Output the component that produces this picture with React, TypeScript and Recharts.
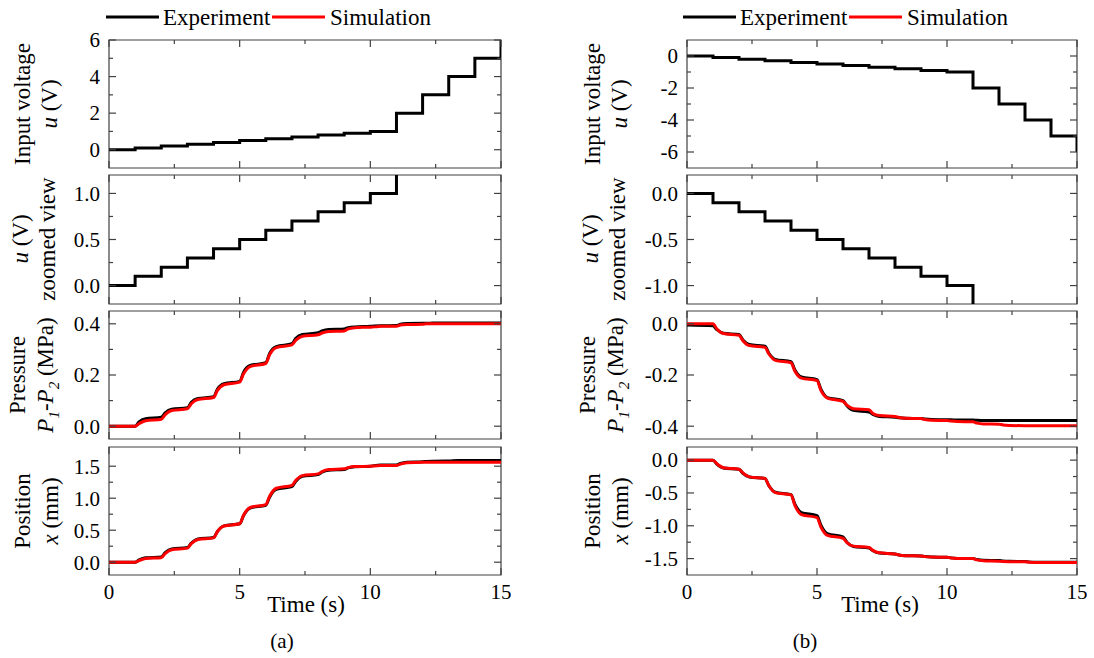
import * as React from "react";
import { LineChart, Line, XAxis, YAxis, ReferenceArea } from "recharts";

// step input, one value per second
const voltTime = [0, 1, 2, 3, 4, 5, 6, 7, 8, 9, 10, 11, 12, 13, 14, 15];
const voltA = [0, 0.1, 0.2, 0.3, 0.4, 0.5, 0.6, 0.7, 0.8, 0.9, 1.0, 2, 3, 4, 5, 6];
const voltB = [0, -0.1, -0.2, -0.3, -0.4, -0.5, -0.6, -0.7, -0.8, -0.9, -1.0, -2, -3, -4, -5, -6];

// response sampling times
const respTime = [
    0, 1,
    1.15, 1.4, 2, 2.15, 2.4, 3, 3.15, 3.4, 4, 4.15, 4.4, 5,
    5.15, 5.4, 6, 6.15, 6.4, 7, 7.15, 7.4, 8, 8.15, 8.4, 9,
    9.15, 9.4, 10, 10.15, 10.4, 11, 11.15, 11.4, 12, 12.15, 12.4, 13,
    13.15, 13.4, 14, 14.15, 14.4, 15
];

const pressExpA = [
    0, 0,
    0.017, 0.029, 0.035, 0.052, 0.066, 0.072, 0.093, 0.108, 0.115, 0.145, 0.166, 0.175,
    0.211, 0.237, 0.248, 0.285, 0.311, 0.322, 0.343, 0.358, 0.365, 0.372, 0.378, 0.38,
    0.385, 0.388, 0.39, 0.391, 0.392, 0.393, 0.398, 0.401, 0.402, 0.402, 0.403, 0.403,
    0.403, 0.403, 0.403, 0.403, 0.403, 0.403
];
const pressSimA = [
    0, 0,
    0.01, 0.021, 0.027, 0.045, 0.061, 0.068, 0.088, 0.104, 0.112, 0.14, 0.162, 0.172,
    0.205, 0.233, 0.245, 0.28, 0.307, 0.318, 0.336, 0.351, 0.357, 0.364, 0.37, 0.372,
    0.38, 0.385, 0.387, 0.388, 0.39, 0.39, 0.395, 0.397, 0.398, 0.4, 0.4, 0.4,
    0.4, 0.4, 0.4, 0.4, 0.4, 0.4
];
const posExpA = [
    0, 0,
    0.035, 0.068, 0.08, 0.148, 0.208, 0.23, 0.3, 0.362, 0.385, 0.482, 0.568, 0.6,
    0.73, 0.847, 0.89, 1.02, 1.137, 1.18, 1.266, 1.342, 1.37, 1.406, 1.438, 1.45,
    1.473, 1.492, 1.5, 1.509, 1.517, 1.52, 1.543, 1.562, 1.57, 1.575, 1.578, 1.58,
    1.585, 1.588, 1.59, 1.59, 1.59, 1.59
];
const posSimA = [
    0, 0,
    0.025, 0.058, 0.07, 0.135, 0.196, 0.22, 0.29, 0.355, 0.38, 0.48, 0.566, 0.6,
    0.735, 0.855, 0.9, 1.035, 1.155, 1.2, 1.28, 1.353, 1.38, 1.416, 1.448, 1.46,
    1.478, 1.494, 1.5, 1.505, 1.509, 1.51, 1.533, 1.553, 1.56, 1.56, 1.56, 1.56,
    1.56, 1.56, 1.56, 1.56, 1.56, 1.56
];

const pressExpB = [
    -0.005, -0.008,
    -0.023, -0.037, -0.042, -0.063, -0.081, -0.088, -0.115, -0.139, -0.148, -0.18, -0.208, -0.218,
    -0.255, -0.288, -0.3, -0.32, -0.338, -0.345, -0.354, -0.362, -0.365, -0.367, -0.369, -0.37,
    -0.372, -0.374, -0.375, -0.375, -0.376, -0.376, -0.377, -0.378, -0.378, -0.378, -0.378, -0.378,
    -0.378, -0.378, -0.378, -0.378, -0.378, -0.378
];
const pressSimB = [
    0, 0,
    -0.02, -0.038, -0.045, -0.066, -0.085, -0.092, -0.118, -0.143, -0.152, -0.185, -0.212, -0.222,
    -0.26, -0.29, -0.303, -0.318, -0.332, -0.336, -0.35, -0.358, -0.362, -0.366, -0.369, -0.37,
    -0.374, -0.377, -0.378, -0.38, -0.382, -0.383, -0.388, -0.391, -0.392, -0.395, -0.397, -0.398,
    -0.398, -0.398, -0.398, -0.398, -0.398, -0.398
];
const posExpB = [
    0, 0,
    -0.06, -0.12, -0.14, -0.2, -0.258, -0.28, -0.39, -0.49, -0.525, -0.67, -0.8, -0.845,
    -0.99, -1.12, -1.17, -1.25, -1.315, -1.34, -1.38, -1.415, -1.43, -1.444, -1.455, -1.46,
    -1.469, -1.476, -1.48, -1.489, -1.497, -1.5, -1.514, -1.526, -1.53, -1.537, -1.542, -1.545,
    -1.55, -1.554, -1.556, -1.556, -1.556, -1.556
];
const posSimB = [
    0, 0,
    -0.055, -0.115, -0.14, -0.195, -0.255, -0.28, -0.39, -0.495, -0.53, -0.69, -0.83, -0.876,
    -1.02, -1.145, -1.19, -1.255, -1.31, -1.33, -1.375, -1.412, -1.43, -1.445, -1.455, -1.46,
    -1.47, -1.477, -1.48, -1.49, -1.497, -1.5, -1.52, -1.533, -1.54, -1.545, -1.548, -1.55,
    -1.555, -1.558, -1.56, -1.56, -1.56, -1.56
];

// axis ticks
const timeMajor = [0, 5, 10, 15];
const timeMinor = [2.5, 7.5, 12.5];

const FONT = "'Liberation Serif', 'Times New Roman', serif";
const FRAME = "#404040";

const voltDataA = voltTime.map((t, i) => ({ t, exp: voltA[i] }));
const voltDataB = voltTime.map((t, i) => ({ t, exp: voltB[i] }));
const respDataA = respTime.map((t, i) => ({ t, pExp: pressExpA[i], pSim: pressSimA[i], xExp: posExpA[i], xSim: posSimA[i] }));
const respDataB = respTime.map((t, i) => ({ t, pExp: pressExpB[i], pSim: pressSimB[i], xExp: posExpB[i], xSim: posSimB[i] }));

type Series = { key: string; color: string; type: "stepAfter" | "monotone" };

type PanelDef = {
    data: any[];
    lines: Series[];
    domain: [number, number];
    major: number[];
    minor: number[];
    digits: number;
};

const exp = (key: string, type: Series["type"]): Series => ({ key, color: "#000000", type });
const sim = (key: string): Series => ({ key, color: "#ff0000", type: "monotone" });

const panelsA: PanelDef[] = [
    { data: voltDataA, lines: [exp("exp", "stepAfter")], domain: [-1, 6], major: [0, 2, 4, 6], minor: [1, 3, 5], digits: 0 },
    { data: voltDataA, lines: [exp("exp", "stepAfter")], domain: [-0.2, 1.2], major: [0, 0.5, 1], minor: [0.25, 0.75], digits: 1 },
    { data: respDataA, lines: [exp("pExp", "monotone"), sim("pSim")], domain: [-0.05, 0.45], major: [0, 0.2, 0.4], minor: [0.1, 0.3], digits: 1 },
    { data: respDataA, lines: [exp("xExp", "monotone"), sim("xSim")], domain: [-0.2, 1.8], major: [0, 0.5, 1, 1.5], minor: [0.25, 0.75, 1.25], digits: 1 },
];
const panelsB: PanelDef[] = [
    { data: voltDataB, lines: [exp("exp", "stepAfter")], domain: [-7, 1], major: [0, -2, -4, -6], minor: [-1, -3, -5], digits: 0 },
    { data: voltDataB, lines: [exp("exp", "stepAfter")], domain: [-1.2, 0.2], major: [0, -0.5, -1], minor: [-0.25, -0.75], digits: 1 },
    { data: respDataB, lines: [exp("pExp", "monotone"), sim("pSim")], domain: [-0.45, 0.05], major: [0, -0.2, -0.4], minor: [-0.1, -0.3], digits: 1 },
    { data: respDataB, lines: [exp("xExp", "monotone"), sim("xSim")], domain: [-1.75, 0.2], major: [0, -0.5, -1, -1.5], minor: [-0.25, -0.75, -1.25], digits: 1 },
];

const panelTop = [40, 175, 311, 447];
const panelH = [128, 129, 128, 128];

const ValueTick = (props: any) => {
    const { x, y, payload, w, major, digits } = props;
    const px = x + 9;
    const isMajor = major.includes(payload.value);
    const len = isMajor ? 7 : 4;
    return (
        <g>
            <line x1={px} x2={px + len} y1={y} y2={y} stroke={FRAME} strokeWidth={1.2} />
            <line x1={px + w} x2={px + w - len} y1={y} y2={y} stroke={FRAME} strokeWidth={1.2} />
            {isMajor && (
                <text x={x} y={y} dy="0.35em" textAnchor="end" fontSize={21} fontFamily={FONT} fill="#000">
                    {Number(payload.value).toFixed(digits)}
                </text>
            )}
        </g>
    );
};

const TimeTick = (props: any) => {
    const { x, y, payload, h, show } = props;
    const isMajor = timeMajor.includes(payload.value);
    const len = isMajor ? 7 : 4;
    return (
        <g>
            <line x1={x} x2={x} y1={y} y2={y - len} stroke={FRAME} strokeWidth={1.2} />
            <line x1={x} x2={x} y1={y - h} y2={y - h + len} stroke={FRAME} strokeWidth={1.2} />
            {show && isMajor && (
                <text x={x} y={y + 24} textAnchor="middle" fontSize={21} fontFamily={FONT} fill="#000">
                    {payload.value}
                </text>
            )}
        </g>
    );
};

const Panel = ({ def, left, top, w, h, showTime }: { def: PanelDef; left: number; top: number; w: number; h: number; showTime: boolean }) => {
    const xH = showTime ? 30 : 2;
    return (
        <div style={{ position: "absolute", left: left - 80, top: top - 20 }}>
            <LineChart
                width={w + 90}
                height={20 + h + xH + 8}
                data={def.data}
                margin={{ top: 20, right: 10, bottom: 8, left: 0 }}>
                <XAxis
                    dataKey="t"
                    type="number"
                    domain={[0, 15]}
                    ticks={[...timeMajor, ...timeMinor]}
                    interval={0}
                    allowDataOverflow
                    axisLine={false}
                    tickLine={false}
                    tickSize={0}
                    tickMargin={0}
                    height={xH}
                    tick={(p: any) => <TimeTick {...p} h={h} show={showTime} />} />
                <YAxis
                    type="number"
                    domain={def.domain}
                    ticks={[...def.major, ...def.minor]}
                    interval={0}
                    allowDataOverflow
                    width={80}
                    axisLine={false}
                    tickLine={false}
                    tickSize={0}
                    tickMargin={9}
                    tick={(p: any) => <ValueTick {...p} w={w} major={def.major} digits={def.digits} />} />
                <ReferenceArea
                    x1={0} x2={15} y1={def.domain[0]} y2={def.domain[1]}
                    fill="none" fillOpacity={0} stroke={FRAME} strokeWidth={1.2} ifOverflow="visible" />
                {def.lines.map((l) => (
                    <Line
                        key={l.key}
                        dataKey={l.key}
                        type={l.type}
                        stroke={l.color}
                        strokeWidth={3}
                        dot={false}
                        activeDot={false}
                        isAnimationActive={false} />
                ))}
            </LineChart>
        </div>
    );
};

const Title = ({ x, cy, children }: { x: number; cy: number; children: React.ReactNode }) => (
    <text transform={`translate(${x},${cy}) rotate(-90)`} textAnchor="middle" fontSize={23} fontFamily={FONT} fill="#000">
        {children}
    </text>
);

const YTitles = ({ dx }: { dx: number }) => (
    <g>
        <Title x={30 + dx} cy={104}>Input voltage</Title>
        <Title x={57 + dx} cy={104}><tspan fontStyle="italic">u</tspan> (V)</Title>
        <Title x={28 + dx} cy={239}><tspan fontStyle="italic">u</tspan> (V)</Title>
        <Title x={55 + dx} cy={239}>zoomed view</Title>
        <Title x={25 + dx} cy={375}>Pressure</Title>
        <Title x={53 + dx} cy={375}>
            <tspan fontStyle="italic">P</tspan>
            <tspan fontStyle="italic" fontSize={15} dy={6}>1</tspan>
            <tspan dy={-6}>-</tspan>
            <tspan fontStyle="italic">P</tspan>
            <tspan fontStyle="italic" fontSize={15} dy={6}>2</tspan>
            <tspan dy={-6}> (MPa)</tspan>
        </Title>
        <Title x={30 + dx} cy={511}>Position</Title>
        <Title x={58 + dx} cy={511}><tspan fontStyle="italic">x</tspan> (mm)</Title>
    </g>
);

const LegendRow = ({ x0 }: { x0: number }) => (
    <g fontSize={23} fontFamily={FONT} fill="#000">
        <line x1={x0} x2={x0 + 53} y1={17} y2={17} stroke="#000" strokeWidth={3} />
        <text x={x0 + 57} y={25}>Experiment</text>
        <line x1={x0 + 166} x2={x0 + 219} y1={17} y2={17} stroke="#ff0000" strokeWidth={3} />
        <text x={x0 + 224} y={25}>Simulation</text>
    </g>
);

const columns = [
    { left: 109, w: 392, panels: panelsA, timeX: 306, tag: "(a)", tagX: 282 },
    { left: 687, w: 390, panels: panelsB, timeX: 880, tag: "(b)", tagX: 805 },
];

export default function App() {
    return (
        <div style={{ position: "absolute", left: 0, top: 0, width: 1094, height: 658, background: "#fff" }}>
            {columns.map((c, ci) =>
                c.panels.map((p, pi) => (
                    <Panel
                        key={`${ci}-${pi}`}
                        def={p}
                        left={c.left}
                        top={panelTop[pi]}
                        w={c.w}
                        h={panelH[pi]}
                        showTime={pi === 3} />
                ))
            )}
            <svg width={1094} height={658} style={{ position: "absolute", left: 0, top: 0, pointerEvents: "none" }}>
                <LegendRow x0={106} />
                <LegendRow x0={683} />
                <YTitles dx={0} />
                <YTitles dx={570} />
                {columns.map((c) => (
                    <g key={c.tag} fontSize={23} fontFamily={FONT} fill="#000" textAnchor="middle">
                        <text x={c.timeX} y={612}>Time (s)</text>
                        <text x={c.tagX} y={648} fontSize={21}>{c.tag}</text>
                    </g>
                ))}
            </svg>
        </div>
    );
}
